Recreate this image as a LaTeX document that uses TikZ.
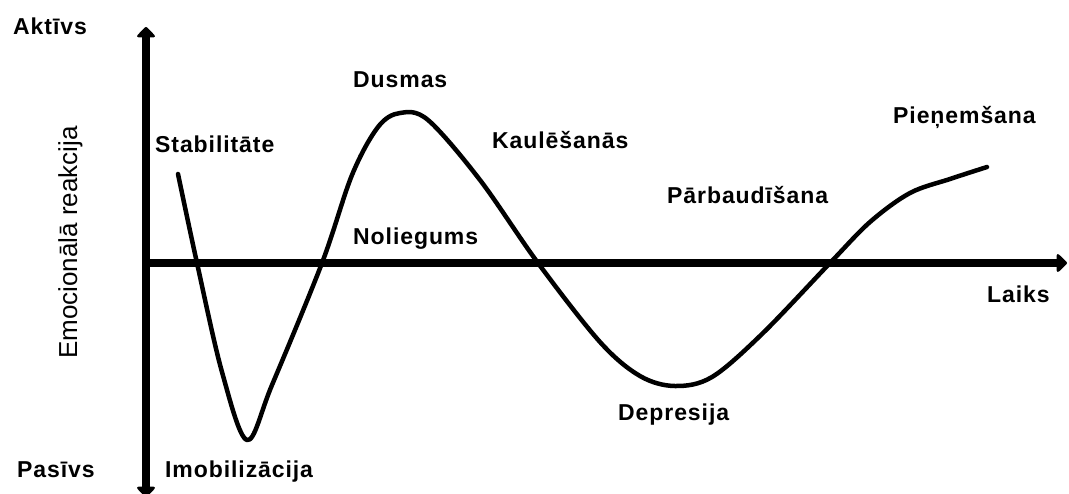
\documentclass[tikz,border=0pt]{standalone}
\usepackage{fontspec}
\setmainfont{Liberation Sans}
\newfontfamily\lblfont[LetterSpace=4]{Liberation Sans}
\usetikzlibrary{arrows.meta}
\begin{document}
\begin{tikzpicture}[x=1pt,y=-1pt,
  lbl/.style={inner sep=0pt,anchor=base west,font=\lblfont\bfseries\fontsize{23}{25}\selectfont},
  tip/.tip={Triangle[length=11pt,width=21pt,round]},
  axis/.style={line width=8pt,-tip},
  curve/.style={line width=4.5pt,line join=round,line cap=round}]
\useasboundingbox[fill=white] (0,0) rectangle (1069,493);
% axes
\coordinate (O) at (146,263);
\coordinate (top) at (146,27);
\coordinate (bot) at (146,497);
\coordinate (right) at (1067,263);
\draw[line width=8pt,tip-tip] (bot) -- (top);
\draw[axis] (O) -- (right);
% curve
\draw[curve] plot[smooth,tension=0.55] coordinates {
 (178,174) (197,263) (222,372) (247,440) (272,385) (322,263) (352,175) (378,127) (400,113)
 (428,120) (480,180) (538,263) (600,342) (640,376) (675,386) (712,377) (762,334) (830,263)
 (870,222) (910,193) (950,179) (987,167)};
% labels
\node[lbl] (aktivs) at (13,34) {Aktīvs};
\node[lbl] (pasivs) at (17,477) {Pasīvs};
\node[inner sep=0pt,anchor=base west,rotate=90,font=\fontsize{26}{28}\selectfont] (emoc) at (77,359) {Emocionālā reakcija};
\node[lbl] (stab) at (155,152) {Stabilitāte};
\node[lbl] (dusmas) at (353,87) {Dusmas};
\node[lbl] (kaul) at (492,148) {Kaulēšanās};
\node[lbl] (nolieg) at (353,244) {Noliegums};
\node[lbl] (pien) at (893,123) {Pieņemšana};
\node[lbl] (parb) at (667,203) {Pārbaudīšana};
\node[lbl] (laiks) at (987,302) {Laiks};
\node[lbl] (depr) at (618,420) {Depresija};
\node[lbl] (imob) at (165,477) {Imobilizācija};
\end{tikzpicture}
\end{document}
